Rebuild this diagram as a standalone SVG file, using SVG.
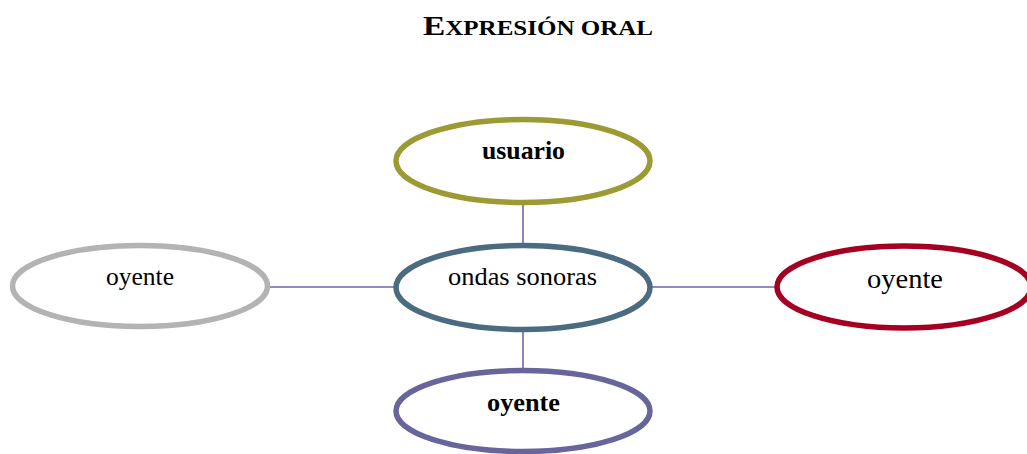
<svg xmlns="http://www.w3.org/2000/svg" width="1027" height="454" viewBox="0 0 1027 454">
<style>
.t{font-family:"Liberation Serif","Times New Roman",serif;fill:#000}
.b{font-weight:bold}
.n{fill:#fff;stroke-width:5.5}
.c{stroke:#6c66a2;stroke-width:1.6;fill:none}
</style>
<rect width="1027" height="454" fill="#fff"/>
<text class="t b" x="423" y="35" textLength="230" lengthAdjust="spacingAndGlyphs"><tspan font-size="28">E</tspan><tspan font-size="21">XPRESIÓN ORAL</tspan></text>
<g id="connectors">
<line class="c" x1="523" y1="204" x2="523" y2="244"/>
<line class="c" x1="523" y1="331" x2="523" y2="370"/>
<line class="c" x1="269" y1="287" x2="395" y2="287"/>
<line class="c" x1="652" y1="287" x2="777" y2="287"/>
</g>
<g id="usuario">
<ellipse class="n" cx="523" cy="161" rx="127" ry="41.5" stroke="#9b9a33"/>
<text class="t b" x="482" y="159" font-size="25" textLength="83" lengthAdjust="spacingAndGlyphs">usuario</text>
</g>
<g id="ondas">
<ellipse class="n" cx="523" cy="287.5" rx="127" ry="42" stroke="#4b6b80"/>
<text class="t" x="448" y="285" font-size="25" textLength="149" lengthAdjust="spacingAndGlyphs">ondas sonoras</text>
</g>
<g id="oyente-izq">
<ellipse class="n" cx="140" cy="286" rx="127.5" ry="40.5" stroke="#b3b3b3"/>
<text class="t" x="106" y="285" font-size="25" textLength="68" lengthAdjust="spacingAndGlyphs">oyente</text>
</g>
<g id="oyente-der">
<ellipse class="n" cx="904" cy="287" rx="127" ry="41" stroke="#a50021"/>
<text class="t" x="867" y="288" font-size="27" textLength="76" lengthAdjust="spacingAndGlyphs">oyente</text>
</g>
<g id="oyente-abajo">
<ellipse class="n" cx="523" cy="411" rx="127" ry="40.5" stroke="#67659b"/>
<text class="t b" x="487" y="411" font-size="25" textLength="73" lengthAdjust="spacingAndGlyphs">oyente</text>
</g>
</svg>
